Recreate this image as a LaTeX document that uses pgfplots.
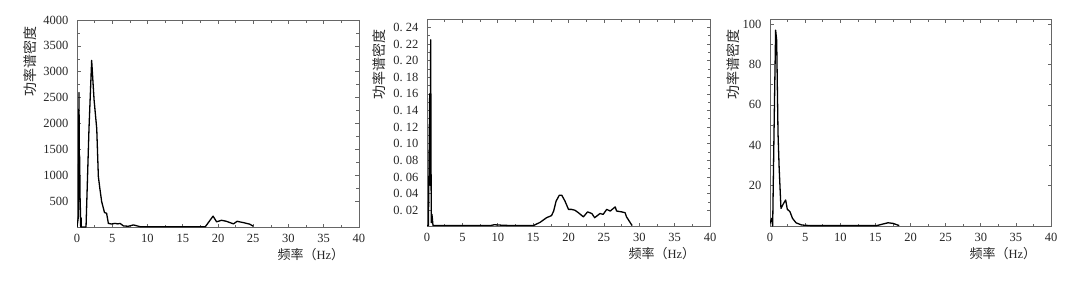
\documentclass[border=0pt]{standalone}
\usepackage{fontspec}
\setmainfont{Liberation Serif}
\newfontfamily\cjk{Noto Sans CJK SC}
\usepackage{pgfplots}
\pgfplotsset{compat=1.18}

\pgfplotsset{
  psd/.style={
    scale only axis, width=282pt, height=207pt, anchor=south west,
    xmin=0, xmax=40, xtick={0,5,...,40},
    minor x tick num=1, minor y tick num=1,
    tick align=inside, major tick length=3.5pt, minor tick length=2.5pt,
    axis line style={black!60, line width=0.7pt},
    every tick/.style={black!60, line width=0.6pt},
    tick label style={font=\fontsize{12.5}{14}\selectfont, text=black!85},
    /pgf/number format/assume math mode=true,
    /pgf/number format/1000 sep={},
    scaled ticks=false,
    xticklabel style={yshift=-4pt},
    yticklabel style={xshift=-5pt},
    xlabel={{\cjk\fontsize{13}{14}\selectfont 频率（}Hz{\cjk\fontsize{13}{14}\selectfont ）}},
    xlabel style={font=\fontsize{12.5}{14}\selectfont, text=black!85, at={(axis description cs:0.96,-0.085)}, anchor=north east},
    ylabel={\cjk\fontsize{14}{15}\selectfont 功率谱密度},
    ylabel style={text=black!85, anchor=center},
    cycle list={{black, no markers}},
    every axis plot post/.append style={line width=1.3pt, line join=round},
  }
}

\begin{document}
\begin{tikzpicture}
\useasboundingbox (0,0) rectangle (1076pt,285pt);

% (a)
\begin{axis}[psd, at={(77pt,58pt)},
  ymin=0, ymax=4000, ytick={500,1000,...,4000},
  ylabel style={at={(axis description cs:-0.165,0.80)}}]
\addplot coordinates {
(0.0,0) (0.2,200) (0.28,2600) (0.33,1400) (0.38,1350) (0.43,600) (0.48,350) (0.52,0)
(0.58,180) (0.62,0) (1.28,0) (1.7,1900) (2.08,3220) (2.42,2460) (2.8,1900) (3.03,975)
(3.27,716) (3.5,490) (3.9,280) (4.2,265) (4.45,70) (4.9,58) (5.4,70) (5.8,60) (6.1,70)
(6.6,20) (7.3,15) (8.0,40) (9.0,5) (12,3) (15,5) (18.2,5) (19.3,210) (19.8,100)
(20.5,130) (21.2,110) (22.2,60) (22.7,110) (23.6,85) (24.5,55) (25.0,15)
};
\node[font=\fontsize{12.5}{14}\selectfont, text=black!85] at (axis description cs:0.44,-0.227) {(\textit{a})};
\end{axis}

% (b)
\begin{axis}[psd, at={(427pt,59pt)}, width=283pt,
  ymin=0.001, ymax=0.25,
  ytick={0.02,0.04,0.06,0.08,0.10,0.12,0.14,0.16,0.18,0.20,0.22,0.24},
  yticklabels={0.\ 02,0.\ 04,0.\ 06,0.\ 08,0.\ 10,0.\ 12,0.\ 14,0.\ 16,0.\ 18,0.\ 20,0.\ 22,0.\ 24},
  ylabel style={at={(axis description cs:-0.17,0.78)}}]
\addplot coordinates {
(0.0,0.0015) (0.2,0.0015) (0.38,0.16) (0.45,0.05) (0.52,0.225) (0.6,0.005) (0.7,0.015)
(0.85,0.0015) (5,0.0015) (9,0.0016) (9.5,0.0025) (10.5,0.002) (12,0.0015) (14,0.0015)
(15.05,0.0015) (16.0,0.0055) (16.9,0.011) (17.6,0.0135) (17.9,0.019) (18.25,0.031)
(18.7,0.038) (19.05,0.038) (19.5,0.031) (20.0,0.021) (20.4,0.021) (20.9,0.020)
(21.4,0.017) (22.1,0.012) (22.7,0.018) (23.3,0.016) (23.7,0.011) (24.45,0.016)
(24.9,0.015) (25.4,0.021) (25.9,0.019) (26.6,0.024) (26.8,0.019) (27.5,0.018)
(28.0,0.017) (28.2,0.012) (28.9,0.0027) (29.0,0.0015)
};
\node[font=\fontsize{12.5}{14}\selectfont, text=black!85] at (axis description cs:0.47,-0.227) {(\textit{b})};
\end{axis}

% (c)
\begin{axis}[psd, at={(770pt,59pt)}, width=281pt,
  ymin=0, ymax=102.5, ytick={20,40,60,80,100},
  ylabel style={at={(axis description cs:-0.13,0.78)}}]
\addplot coordinates {
(0.0,1.3) (0.24,3.8) (0.38,0) (0.57,46) (0.8,97) (0.95,92) (1.14,46) (1.3,29)
(1.56,8.7) (1.9,11) (2.23,12.9) (2.46,8.3) (2.84,7.1) (3.2,3.8) (3.7,1.6) (4.5,0.5)
(5.7,0.2) (10,0.2) (15.2,0.2) (16.1,1.0) (16.8,1.6) (17.5,1.3) (18.4,0.2)
};
\node[font=\fontsize{12.5}{14}\selectfont, text=black!85] at (axis description cs:0.48,-0.227) {(\textit{c})};
\end{axis}
\end{tikzpicture}
\end{document}
